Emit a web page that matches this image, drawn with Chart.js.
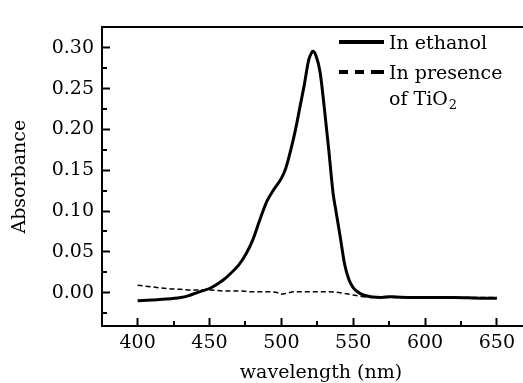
<!DOCTYPE html>
<html>
<head>
<meta charset="utf-8">
<script src="https://cdn.jsdelivr.net/npm/chart.js@4/dist/chart.umd.min.js"></script>
<style>
html,body{margin:0;padding:0;background:#fff;overflow:hidden;}
#wrap{width:542px;height:383px;}
</style>
</head>
<body>
<div id="wrap"><canvas id="c" width="542" height="383"></canvas></div>
<script>
// ---- data ----
const ethanolWavelength = [400,410,420,430,435,440,445,450,455,460,465,470,475,480,485,490,495,500,503,507,510,513,516,519,521,522,524,527,530,533,536,538,541,544,547,550,553,557,562,570,575,580,590,600,620,640,650];
const ethanolAbsorbance = [-0.010,-0.009,-0.008,-0.006,-0.004,-0.001,0.002,0.005,0.010,0.016,0.024,0.033,0.046,0.064,0.089,0.112,0.127,0.140,0.152,0.178,0.201,0.228,0.255,0.285,0.294,0.296,0.291,0.270,0.225,0.175,0.122,0.100,0.068,0.035,0.016,0.006,0.001,-0.003,-0.005,-0.006,-0.005,-0.0055,-0.006,-0.006,-0.006,-0.007,-0.007];
const tio2Wavelength = [400,410,420,430,440,450,460,470,480,490,497,500,503,510,520,530,540,550,557,565,600,650];
const tio2Absorbance = [0.009,0.007,0.005,0.004,0.003,0.003,0.002,0.002,0.001,0.001,0.000,-0.002,-0.001,0.001,0.001,0.001,0.000,-0.003,-0.005,-0.006,-0.006,-0.006];
const seriesLabels = ['In ethanol', 'In presence of TiO\u2082'];
const legendLines = [['In ethanol'], ['In presence', 'of TiO\u2082']];
const xTickValues = [400,450,500,550,600,650];
const xMinorTicks = [425,475,525,575,625];
const yTickValues = [0.00,0.05,0.10,0.15,0.20,0.25,0.30];
const yMinorTicks = [-0.025,0.025,0.075,0.125,0.175,0.225,0.275];

const FONT = 'DejaVu Serif';
const toPts = (xs, ys) => xs.map((x, i) => ({x, y: ys[i]}));

const minorTicksPlugin = {
  id: 'minorTicks',
  afterDraw(chart) {
    const {ctx, chartArea, scales} = chart;
    ctx.save();
    ctx.strokeStyle = '#000';
    ctx.lineWidth = 2;
    ctx.beginPath();
    yMinorTicks.forEach(v => {
      const y = Math.round(scales.y.getPixelForValue(v));
      ctx.moveTo(chartArea.left, y); ctx.lineTo(chartArea.left + 5, y);
    });
    xMinorTicks.forEach(v => {
      const x = Math.round(scales.x.getPixelForValue(v));
      ctx.moveTo(x, chartArea.bottom); ctx.lineTo(x, chartArea.bottom - 5);
    });
    ctx.stroke();
    ctx.restore();
  }
};

const legendPlugin = {
  id: 'customLegend',
  afterDraw(chart) {
    const {ctx} = chart;
    const ds = chart.data.datasets;
    const x0 = 339, x1 = 384, tx = 389;
    const rows = [42, 72];
    ctx.save();
    ctx.fillStyle = '#000';
    ctx.textBaseline = 'alphabetic';
    ctx.font = '19px "' + FONT + '"';
    ds.forEach((d, i) => {
      const y = rows[i];
      ctx.strokeStyle = '#000';
      ctx.lineWidth = 4;
      ctx.setLineDash(i === 0 ? [] : [9, 7, 9, 7, 13, 20]);
      ctx.beginPath(); ctx.moveTo(x0, y); ctx.lineTo(x1, y); ctx.stroke();
      ctx.setLineDash([]);
      legendLines[i].forEach((line, j) => {
        const by = y + 7 + j * 26;
        const m = line.match(/^(.*)\u2082$/);
        if (m) {
          ctx.font = '19px "' + FONT + '"';
          ctx.fillText(m[1], tx, by);
          const w = ctx.measureText(m[1]).width;
          ctx.font = '13px "' + FONT + '"';
          ctx.fillText('2', tx + w + 1, by + 4);
          ctx.font = '19px "' + FONT + '"';
        } else {
          ctx.fillText(line, tx, by);
        }
      });
    });
    ctx.restore();
  }
};

new Chart(document.getElementById('c'), {
  type: 'line',
  data: {
    datasets: [
      {
        label: seriesLabels[0],
        data: toPts(ethanolWavelength, ethanolAbsorbance),
        borderColor: '#000', borderWidth: 3, pointRadius: 0, cubicInterpolationMode: 'monotone', fill: false
      },
      {
        label: seriesLabels[1],
        data: toPts(tio2Wavelength, tio2Absorbance),
        borderColor: '#000', borderWidth: 1.5, borderDash: [5, 3], pointRadius: 0, cubicInterpolationMode: 'monotone', fill: false
      }
    ]
  },
  options: {
    responsive: false,
    animation: false,
    layout: {padding: {top: 11, right: 2, left: 0, bottom: 0}},
    plugins: {legend: {display: false}, tooltip: {enabled: false}},
    scales: {
      x: {
        type: 'linear', position: 'bottom', min: 375.2, max: 680,
        afterBuildTicks: s => { s.ticks = xTickValues.map(v => ({value: v})); },
        afterFit: s => { s.height = 57; },
        grid: {drawOnChartArea: false, drawTicks: true, tickLength: -8, tickWidth: 2, color: '#000'},
        border: {display: true, width: 2, color: '#000'},
        ticks: {color: '#000', font: {family: FONT, size: 19}, padding: 14, maxRotation: 0,
                callback: v => String(v)},
        title: {display: true, text: 'wavelength (nm)', color: '#000',
                font: {family: FONT, size: 19, lineHeight: 1}, padding: {top: 0, bottom: 0}}
      },
      x2: {
        type: 'linear', position: 'top', min: 375.2, max: 680, display: true,
        afterFit: s => { s.height = 0; },
        grid: {drawOnChartArea: false, drawTicks: false},
        border: {display: true, width: 2, color: '#000'},
        ticks: {display: false}
      },
      y: {
        type: 'linear', min: -0.041, max: 0.3252,
        afterBuildTicks: s => { s.ticks = yTickValues.map(v => ({value: v})); },
        afterFit: s => { s.width = 102; },
        grid: {drawOnChartArea: false, drawTicks: true, tickLength: -8, tickWidth: 2, color: '#000'},
        border: {display: true, width: 2, color: '#000'},
        ticks: {color: '#000', font: {family: FONT, size: 19}, padding: 16,
                callback: v => v.toFixed(2)},
        title: {display: true, text: 'Absorbance', color: '#000',
                font: {family: FONT, size: 19, lineHeight: 1}, padding: {top: 11, bottom: 0}}
      }
    }
  },
  plugins: [minorTicksPlugin, legendPlugin]
});
</script>
</body>
</html>
